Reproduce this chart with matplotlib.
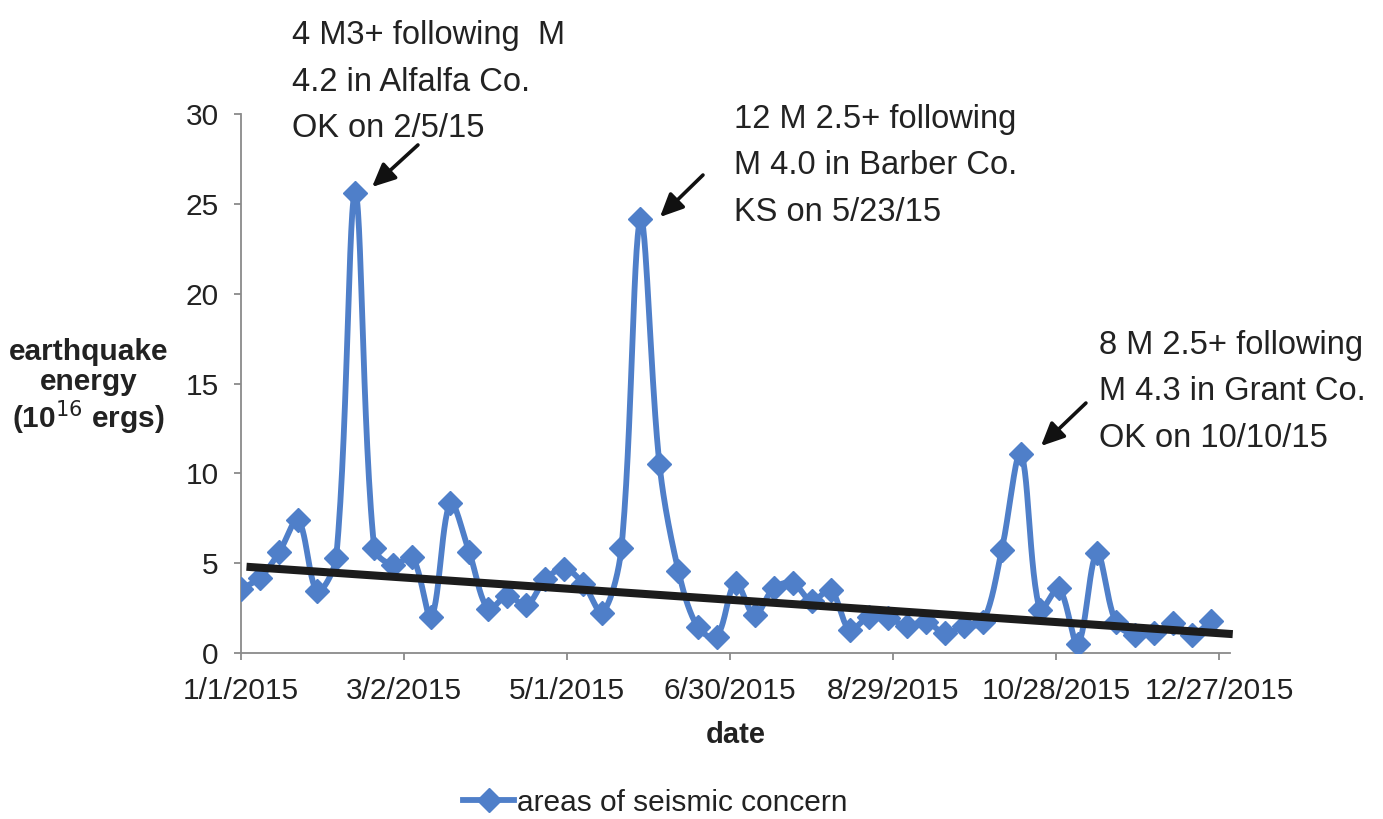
import numpy as np
import pandas as pd
import matplotlib
matplotlib.use("Agg")
import matplotlib.pyplot as plt
import matplotlib.dates as mdates
from matplotlib.lines import Line2D

plt.rcParams['font.family'] = ['Liberation Sans', 'DejaVu Sans']

# weekly totals, 2015
dates = pd.date_range('2015-01-01', periods=52, freq='7D')
energy = [3.55, 4.2, 5.6, 7.4, 3.45, 5.3, 25.6, 5.85, 4.9, 5.35,
          2.0, 8.35, 5.6, 2.45, 3.2, 2.65, 4.1, 4.7, 3.85, 2.25,
          5.85, 24.15, 10.5, 4.55, 1.45, 0.9, 3.9, 2.1, 3.6, 3.9,
          2.9, 3.5, 1.3, 2.0, 1.95, 1.5, 1.75, 1.1, 1.5, 1.7,
          5.75, 11.1, 2.4, 3.6, 0.5, 5.55, 1.7, 1.0, 1.1, 1.65,
          1.0, 1.8]

# linear trend (start/end)
trend_dates = pd.to_datetime(['2015-01-03', '2016-01-01'])
trend_vals = [4.8, 1.05]

tick_dates = pd.date_range('2015-01-01', periods=7, freq='60D')

notes = ["4 M3+ following  M\n4.2 in Alfalfa Co.\nOK on 2/5/15",
         "12 M 2.5+ following\nM 4.0 in Barber Co.\nKS on 5/23/15",
         "8 M 2.5+ following\nM 4.3 in Grant Co.\nOK on 10/10/15"]

BLUE = '#4f7fc9'
TXT = '#222222'
GREY = '#8a8a8a'


def smooth(x, y, sx=1.0, sy=1.0, n=30):
    # smoothed line like a spreadsheet: bezier segments, tangents weighted by chord length
    p = np.column_stack([x, y])
    q = p * [sx, sy]
    xs, ys = [], []
    t = np.linspace(0, 1, n)[:, None]
    N = len(p)
    for i in range(N - 1):
        i0 = max(i - 1, 0)
        i3 = min(i + 2, N - 1)
        d01 = np.hypot(*(q[i] - q[i0]))
        d12 = np.hypot(*(q[i + 1] - q[i]))
        d23 = np.hypot(*(q[i3] - q[i + 1]))
        w1 = d12 / (d01 + d12) if d01 + d12 > 0 else 0.5
        w2 = d12 / (d12 + d23) if d12 + d23 > 0 else 0.5
        c1 = p[i] + (p[i + 1] - p[i0]) * w1 / 3
        c2 = p[i + 1] - (p[i3] - p[i]) * w2 / 3
        p1, p2 = p[i], p[i + 1]
        seg = ((1 - t) ** 3) * p1 + 3 * ((1 - t) ** 2) * t * c1 + 3 * (1 - t) * t ** 2 * c2 + t ** 3 * p2
        xs.extend(seg[:, 0])
        ys.extend(seg[:, 1])
    return np.array(xs), np.array(ys)


fig = plt.figure(figsize=(13.83, 8.19), dpi=100)
ax = fig.add_axes([0.1743, 0.2027, 0.7151, 0.658])

xn = mdates.date2num(dates)
lx, ly = smooth(xn, np.array(energy), sx=2.718, sy=18.0)
ax.plot(lx, ly, color=BLUE, lw=4.2, zorder=2, solid_joinstyle='round')
ax.plot(xn, energy, ls='none', marker='D', ms=12.5, color=BLUE, zorder=3)

ax.plot(mdates.date2num(trend_dates), trend_vals, color='#1c1c1c', lw=5.8,
        zorder=4, clip_on=False, solid_capstyle='butt')

ax.set_ylim(0, 30)
ax.set_yticks(range(0, 31, 5))
ax.set_xlim(mdates.date2num(pd.Timestamp('2015-01-01')), mdates.date2num(pd.Timestamp('2015-12-31')))
ax.set_xticks(mdates.date2num(tick_dates))
ax.set_xticklabels([f"{d.month}/{d.day}/{d.year}" for d in tick_dates])

for s in ['top', 'right']:
    ax.spines[s].set_visible(False)
for s in ['left', 'bottom']:
    ax.spines[s].set_color(GREY)
    ax.spines[s].set_linewidth(1.3)
ax.tick_params(axis='both', colors=GREY, labelcolor=TXT, labelsize=21.5, length=5, width=1.3)
ax.tick_params(axis='y', pad=11)
ax.tick_params(axis='x', pad=12)

ax.set_xlabel('date', fontsize=21, fontweight='bold', color=TXT, labelpad=12)
fig.text(0.064, 0.527, 'earthquake\nenergy\n(10$^{16}$ ergs)', fontsize=21.5, fontweight='bold',
         color=TXT, ha='center', va='center', linespacing=1.1)

# annotations
note_pos = [(0.211, 0.975), (0.531, 0.873), (0.795, 0.597)]
arrow_tail = [(0.3022, 0.8230), (0.5083, 0.7863), (0.7852, 0.5079)]
arrow_head = [(0.2690, 0.7717), (0.4772, 0.7350), (0.7527, 0.4554)]
for txt, pos, tail, head in zip(notes, note_pos, arrow_tail, arrow_head):
    fig.text(pos[0], pos[1], txt, fontsize=23.5, color=TXT, ha='left', va='top', linespacing=1.64)
    ax.annotate('', xy=head, xycoords='figure fraction', xytext=tail, textcoords='figure fraction',
                arrowprops=dict(arrowstyle='-|>,head_length=1.4,head_width=0.65', color='#111111',
                                lw=2.6, shrinkA=0, shrinkB=0))

handle = Line2D([], [], color=BLUE, lw=4.2, marker='D', ms=12.5)
fig.legend([handle], ['areas of seismic concern'], loc='center', bbox_to_anchor=(0.474, 0.02),
           frameon=False, fontsize=21.5, handlelength=1.7, handletextpad=0.1,
           labelcolor=TXT)

fig.savefig('out.png', dpi=100)
